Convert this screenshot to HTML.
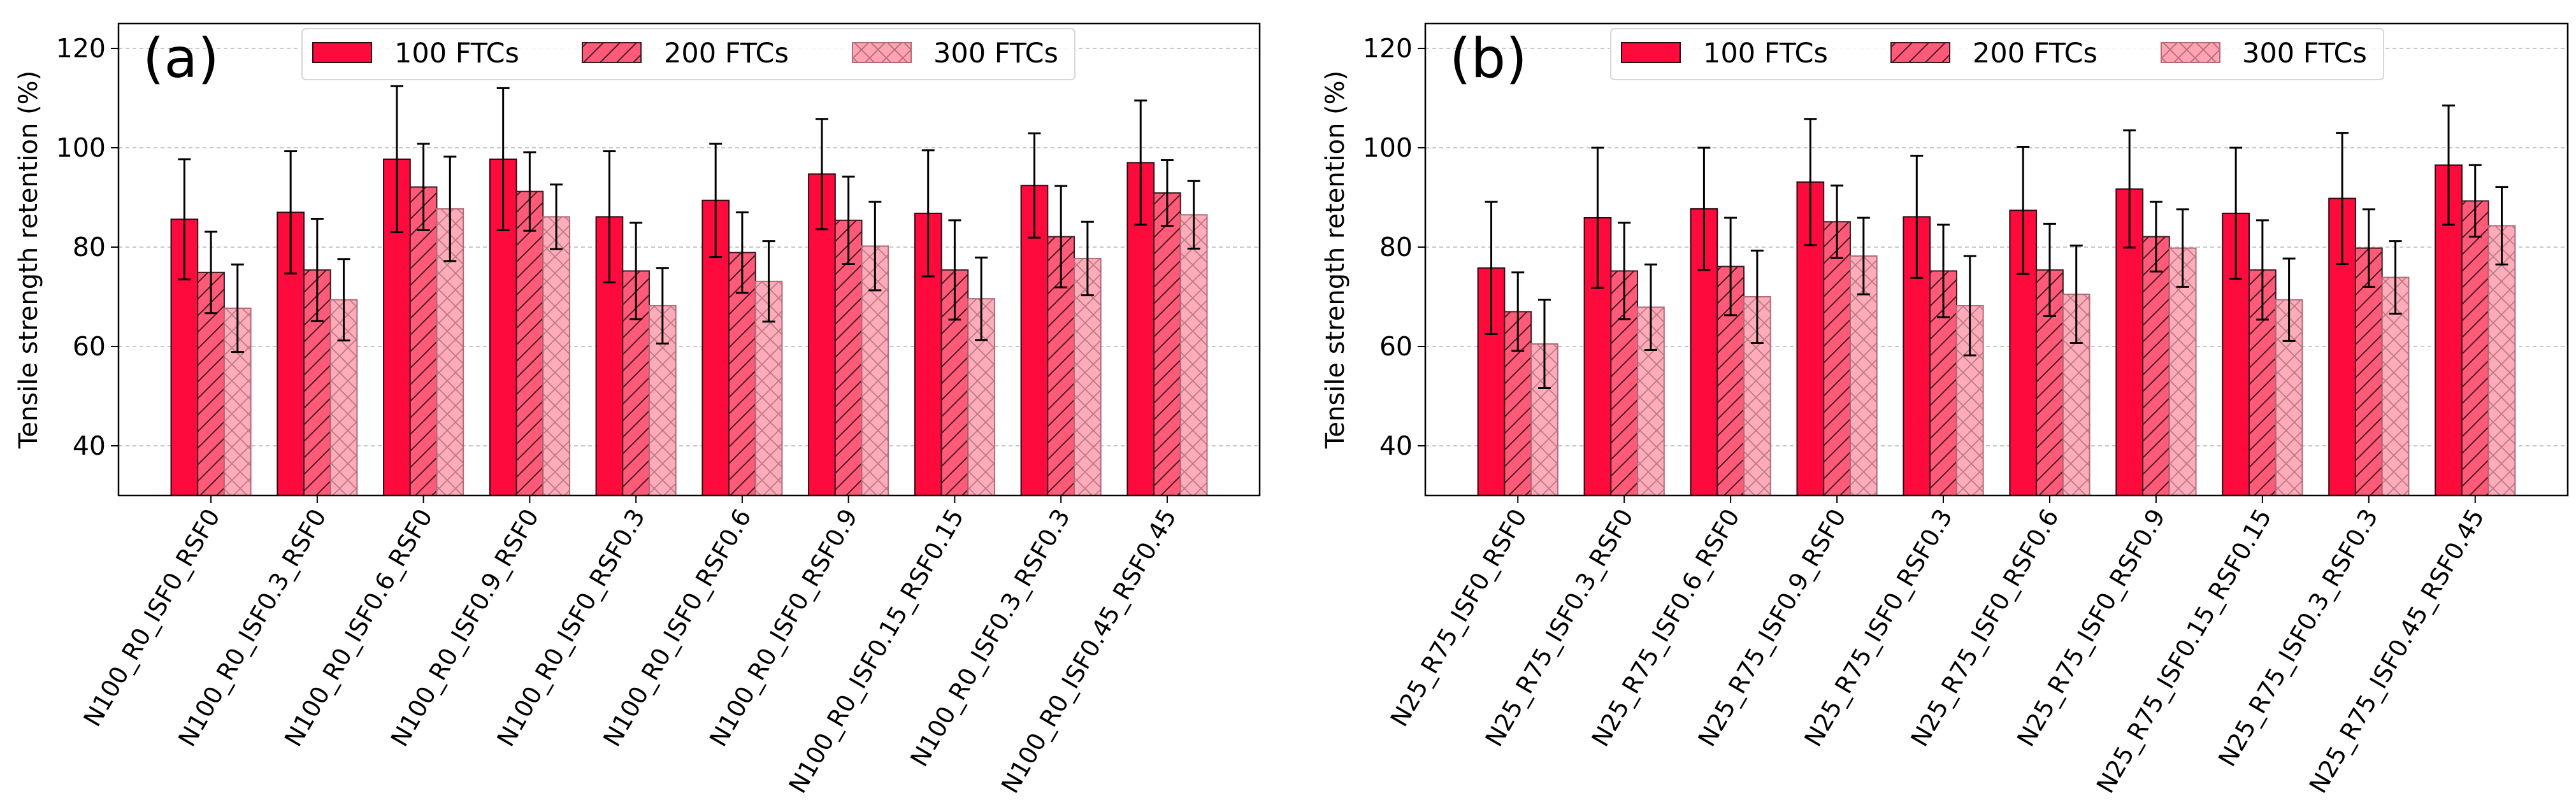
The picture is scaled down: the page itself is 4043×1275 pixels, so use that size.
<!DOCTYPE html>
<html><head><meta charset="utf-8"><style>
html,body{margin:0;padding:0;background:#fff;}
svg{display:block;font-family:"DejaVu Sans","Liberation Sans",sans-serif;}
</style></head><body>
<svg id="chart" width="4043" height="1275" viewBox="0 0 4043 1275" xmlns="http://www.w3.org/2000/svg">
<defs>
<pattern id="hatchD" patternUnits="userSpaceOnUse" width="26" height="26">
<rect width="26" height="26" fill="#ff5a78"/>
<path d="M-6.5,6.5 L6.5,-6.5 M0,26 L26,0 M19.5,32.5 L32.5,19.5" stroke="#4a1a22" stroke-width="2"/>
</pattern>
<pattern id="hatchX" patternUnits="userSpaceOnUse" width="26" height="26">
<rect width="26" height="26" fill="#ffa3b2"/>
<path d="M0,26 L26,0 M0,0 L26,26 M-6.5,6.5 L6.5,-6.5 M19.5,32.5 L32.5,19.5 M-6.5,19.5 L6.5,32.5 M19.5,-6.5 L32.5,6.5" stroke="#b56a78" stroke-width="1.8"/>
</pattern>
</defs>
</svg>
<script>
const catsA = ["N100_R0_ISF0_RSF0","N100_R0_ISF0.3_RSF0","N100_R0_ISF0.6_RSF0","N100_R0_ISF0.9_RSF0","N100_R0_ISF0_RSF0.3","N100_R0_ISF0_RSF0.6","N100_R0_ISF0_RSF0.9","N100_R0_ISF0.15_RSF0.15","N100_R0_ISF0.3_RSF0.3","N100_R0_ISF0.45_RSF0.45"];
const catsB = ["N25_R75_ISF0_RSF0","N25_R75_ISF0.3_RSF0","N25_R75_ISF0.6_RSF0","N25_R75_ISF0.9_RSF0","N25_R75_ISF0_RSF0.3","N25_R75_ISF0_RSF0.6","N25_R75_ISF0_RSF0.9","N25_R75_ISF0.15_RSF0.15","N25_R75_ISF0.3_RSF0.3","N25_R75_ISF0.45_RSF0.45"];
const a100 = [85.6,87.0,97.7,97.7,86.1,89.4,94.7,86.8,92.4,97.0];
const a100err = [12.1,12.3,14.7,14.3,13.2,11.4,11.1,12.7,10.5,12.5];
const a200 = [74.9,75.4,92.1,91.2,75.2,78.9,85.4,75.4,82.1,90.9];
const a200err = [8.2,10.3,8.7,7.9,9.7,8.1,8.8,10.0,10.2,6.6];
const a300 = [67.7,69.4,87.7,86.1,68.2,73.1,80.2,69.6,77.7,86.5];
const a300err = [8.8,8.2,10.5,6.5,7.6,8.1,8.9,8.3,7.4,6.8];
const b100 = [75.8,85.9,87.7,93.1,86.1,87.4,91.7,86.8,89.8,96.5];
const b100err = [13.3,14.1,12.3,12.7,12.3,12.8,11.8,13.2,13.2,12.0];
const b200 = [67.0,75.2,76.1,85.1,75.2,75.4,82.1,75.4,79.8,89.3];
const b200err = [7.9,9.7,9.8,7.3,9.3,9.3,7.0,10.0,7.8,7.2];
const b300 = [60.5,67.9,70.0,78.2,68.2,70.5,79.8,69.4,73.9,84.3];
const b300err = [8.9,8.6,9.3,7.7,10.0,9.8,7.8,8.3,7.3,7.8];
const yTicks = [40,60,80,100,120];
const seriesNames = ["100 FTCs","200 FTCs","300 FTCs"];

const NS="http://www.w3.org/2000/svg";
const svg=document.getElementById('chart');
function mk(tag,attrs,parent){const e=document.createElementNS(NS,tag);for(const k in attrs)e.setAttribute(k,attrs[k]);(parent||svg).appendChild(e);return e;}
const fills=["#ff0a3c","url(#hatchD)","url(#hatchX)"];
const strokes=["#2a0a10","#3a1a20","#b06a78"];

function panel(opts){
  const L=opts.left,R=opts.right,T=37,B=778;
  const ymin=30,ymax=125;
  const y=v=>B-(v-ymin)/(ymax-ymin)*(B-T);
  const n=opts.cats.length;
  const sp=(R-L)/(n-1+1.74);
  const x0=L+0.87*sp;
  const x=i=>x0+i*sp;
  const bw=sp*0.25;
  const g=mk('g',{});
  
  
  yTicks.forEach(t=>{
    const l=mk('line',{x1:L,x2:R,y1:y(t),y2:y(t),stroke:'#c8c8c8','stroke-width':2,'stroke-dasharray':'6,5'},g);
    
    
    mk('line',{x1:L-12,x2:L,y1:y(t),y2:y(t),stroke:'#000','stroke-width':2},g);
    const tx=mk('text',{x:L-20,y:y(t)+14,'text-anchor':'end','font-size':41,fill:'#000'},g);
    tx.textContent=t;
    
    
  });
  const series=[opts.s1,opts.s2,opts.s3];
  const errs=[opts.e1,opts.e2,opts.e3];
  series.forEach((s,k)=>{
    s.forEach((v,i)=>{
      const cx=x(i)+(k-1)*bw;
      const r=mk('rect',{x:cx-bw/2,y:y(v),width:bw,height:B-y(v),fill:fills[k],stroke:strokes[k],'stroke-width':2,'fill-opacity':k==2?0.9:1},g);
      
      
    });
  });
  series.forEach((s,k)=>{
    s.forEach((v,i)=>{
      const cx=x(i)+(k-1)*bw;const e=errs[k][i];
      const eg=mk('g',{stroke:'#000','stroke-width':3},g);
      
      
      mk('line',{x1:cx,x2:cx,y1:y(v-e),y2:y(v+e)},eg);
      mk('line',{x1:cx-10,x2:cx+10,y1:y(v-e),y2:y(v-e)},eg);
      mk('line',{x1:cx-10,x2:cx+10,y1:y(v+e),y2:y(v+e)},eg);
    });
  });
  const fr=mk('rect',{x:L,y:T,width:R-L,height:B-T,fill:'none',stroke:'#000','stroke-width':2.5},g);
  
  
  opts.cats.forEach((c,i)=>{
    mk('line',{x1:x(i),x2:x(i),y1:B,y2:B+12,stroke:'#000','stroke-width':2},g);
    const px=x(i)+15,py=B+31;
    const t=mk('text',{x:px,y:py,'text-anchor':'end','font-size':38,fill:'#000',transform:'rotate(-60 '+px+' '+py+')'},g);
    t.textContent=c;
    
    
  });
  const yl=mk('text',{x:opts.ylx,y:(T+B)/2,'text-anchor':'middle','font-size':40,fill:'#000',transform:'rotate(-90 '+opts.ylx+' '+(T+B)/2+')'},g);
  yl.textContent='Tensile strength retention (%)';
  
  
  const pl=mk('text',{x:L+38,y:121,'font-size':86,fill:'#000'},g);
  pl.textContent=opts.letter;
  
  
  const lg=mk('g',{},g);
  
  
  mk('rect',{x:opts.legX,y:45,width:1213,height:80,rx:6,fill:'#fff','fill-opacity':0.85,stroke:'#d6d6d6','stroke-width':2},lg);
  const hx=[17,440,864],tx=[145,568,991];
  seriesNames.forEach((nm,k)=>{
    const e=mk('g',{},lg);
    
    
    mk('rect',{x:opts.legX+hx[k],y:67,width:92,height:31,fill:fills[k],stroke:strokes[k],'stroke-width':2},e);
    const t=mk('text',{x:opts.legX+tx[k],y:98,'font-size':43,fill:'#000'},e);
    t.textContent=nm;
  });
}
panel({name:'panel-a',left:186,right:1977,cats:catsA,s1:a100,s2:a200,s3:a300,e1:a100err,e2:a200err,e3:a300err,ylx:58,letter:'(a)',legX:474});
panel({name:'panel-b',left:2237,right:4030,cats:catsB,s1:b100,s2:b200,s3:b300,e1:b100err,e2:b200err,e3:b300err,ylx:2109,letter:'(b)',legX:2528});
</script>
</body></html>
